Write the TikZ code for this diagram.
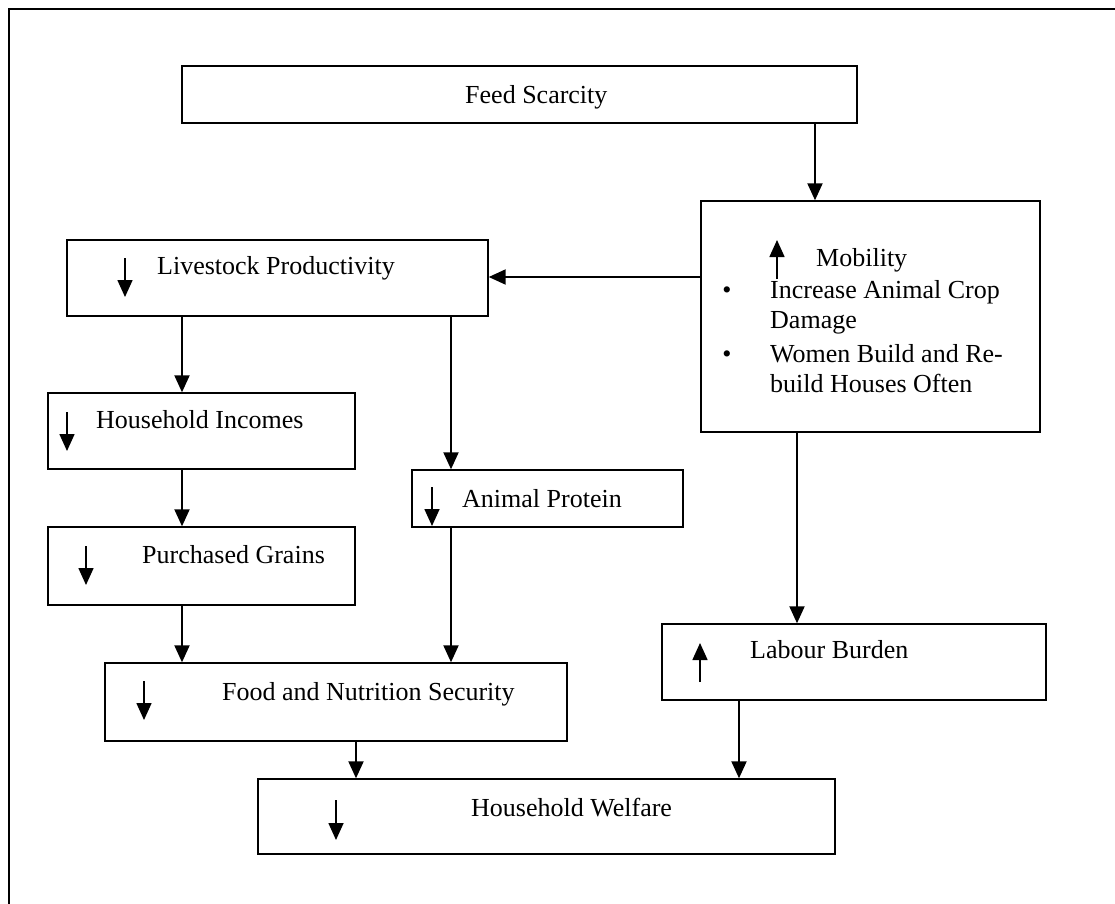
\documentclass[tikz,border=0pt]{standalone}
\usepackage{fontspec}
\setmainfont{Liberation Serif}
\usepackage{tikz}
\usetikzlibrary{arrows.meta}
\usetikzlibrary{positioning}
\tikzset{>={Triangle[length=17pt,width=15pt]}}
\newcommand\boxwd{1.4pt}
\newcommand\flowwd{2pt}
\tikzstyle{box}   = [draw, rectangle, line width=\boxwd, inner sep=0pt]
\tikzstyle{flow}  = [->, line width=\flowwd]
\tikzstyle{trend} = [->, line width=1.6pt]
\tikzstyle{label} = [anchor=base west, inner sep=0pt,
                     font=\fontsize{26pt}{30pt}\selectfont]

\begin{document}
\begin{tikzpicture}[x=1pt, y=-1pt]
    \useasboundingbox (0, 0) rectangle (1115, 903);
    % frame
    \draw[line width=2.2pt] (9, 910) -- (9, 9) -- (1120, 9);
    % boxes
    \draw (519.5, 94.5) node[box, line width=2pt, minimum width=675pt, minimum height=57pt] (feed) {};
    \draw (870.5, 316.5) node[box, minimum width=339pt, minimum height=231pt] (mob) {};
    \draw (277.5, 278) node[box, minimum width=421pt, minimum height=76pt] (lp) {};
    \draw (201.5, 431) node[box, minimum width=307pt, minimum height=76pt] (hi) {};
    \draw (547.5, 498.5) node[box, minimum width=271pt, minimum height=57pt] (ap) {};
    \draw (201.5, 566) node[box, minimum width=307pt, minimum height=78pt] (pg) {};
    \draw (336, 702) node[box, minimum width=462pt, minimum height=78pt] (fns) {};
    \draw (854, 662) node[box, minimum width=384pt, minimum height=76pt] (lb) {};
    \draw (546.5, 816.5) node[box, minimum width=577pt, minimum height=75pt] (hw) {};
    % texts
    \draw (465, 103) node[label] (feedtxt) {Feed Scarcity};
    \draw (816, 266) node[label] (mobtxt) {Mobility};
    \draw (727, 298) node[label, anchor=base] (bul1) {\textbullet};
    \draw (770, 298) node[label] (mobtxt1) {Increase Animal Crop};
    \draw (770, 328) node[label] (mobtxt2) {Damage};
    \draw (727, 362) node[label, anchor=base] (bul2) {\textbullet};
    \draw (770, 362) node[label] (mobtxt3) {Women Build and Re-};
    \draw (770, 392) node[label] (mobtxt4) {build Houses Often};
    \draw (157, 274) node[label] (lptxt) {Livestock Productivity};
    \draw (96, 428) node[label] (hitxt) {Household Incomes};
    \draw (462, 507) node[label] (aptxt) {Animal Protein};
    \draw (142, 563) node[label] (pgtxt) {Purchased Grains};
    \draw (222, 700) node[label] (fnstxt) {Food and Nutrition Security};
    \draw (750, 658) node[label] (lbtxt) {Labour Burden};
    \draw (471, 816) node[label] (hwtxt) {Household Welfare};
    % up and down marks
    \draw[trend] (125, 258) -- (125, 297);
    \draw[trend] (67, 412) -- (67, 451);
    \draw[trend] (432, 487) -- (432, 526);
    \draw[trend] (86, 546) -- (86, 585);
    \draw[trend] (144, 681) -- (144, 720);
    \draw[trend] (336, 800) -- (336, 840);
    \draw[trend] (777, 279) -- (777, 240);
    \draw[trend] (700, 682) -- (700, 643);
    % links
    \draw[flow] (815,0 |- feed.south) -- (815,0 |- mob.north);
    \draw[flow] (mob.west |- 0,277) -- (lp.east |- 0,277);
    \draw[flow] (182,0 |- lp.south) -- (182,0 |- hi.north);
    \draw[flow] (451,0 |- lp.south) -- (451,0 |- ap.north);
    \draw[flow] (182,0 |- hi.south) -- (182,0 |- pg.north);
    \draw[flow] (182,0 |- pg.south) -- (182,0 |- fns.north);
    \draw[flow] (451,0 |- ap.south) -- (451,0 |- fns.north);
    \draw[flow] (797,0 |- mob.south) -- (797,0 |- lb.north);
    \draw[flow] (356,0 |- fns.south) -- (356,0 |- hw.north);
    \draw[flow] (739,0 |- lb.south) -- (739,0 |- hw.north);
\end{tikzpicture}
\end{document}
